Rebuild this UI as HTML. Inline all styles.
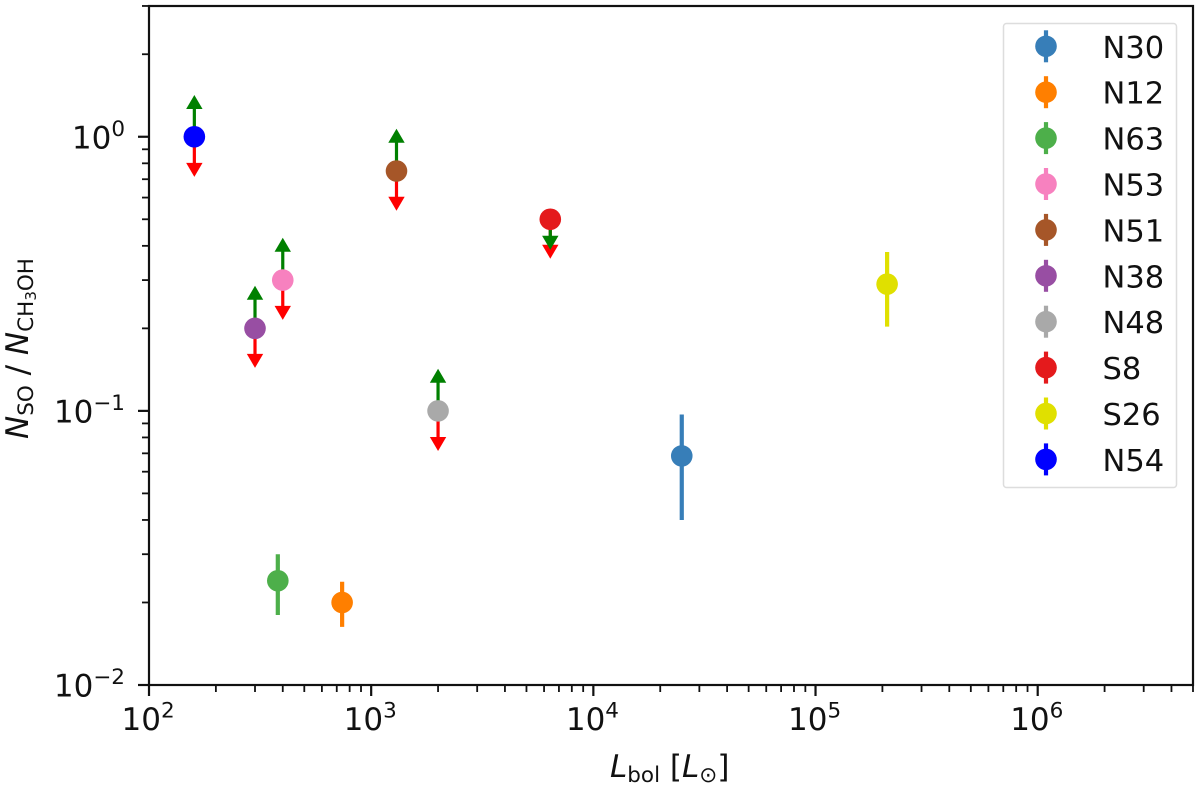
<!DOCTYPE html>
<html lang="en">
<head>
<meta charset="utf-8">
<title>SO / CH3OH column density ratio vs bolometric luminosity</title>
<style>
html,body{margin:0;padding:0;background:#fff;width:1200px;height:788px;overflow:hidden}
svg{display:block;filter:blur(0.35px)}
text{font-family:"DejaVu Sans",sans-serif;fill:#111}
.tick-text{font-size:31px}
.sup{font-size:21.5px}
.it{font-style:italic}
</style>
</head>
<body>
<svg id="chart" xmlns="http://www.w3.org/2000/svg" width="1200" height="788" viewBox="0 0 1200 788">
  <rect x="149" y="6" width="1044" height="679" fill="#fff"/>
  <g id="ticks"></g>
  <g id="marks"></g>
  <rect x="149" y="6" width="1044" height="679" fill="none" stroke="#111" stroke-width="2.2"/>
  <g id="legend">
    <rect x="1003.5" y="23.5" width="173" height="464" rx="3" fill="#fff" fill-opacity="0.8" stroke="#ddd" stroke-width="1.5"/>
  </g>
  <text x="610" y="777" font-size="31"><tspan class="it">L</tspan><tspan font-size="21.5" dy="5">bol</tspan><tspan dy="-5"> [</tspan><tspan class="it">L</tspan><tspan font-size="21.5" dy="5">⊙</tspan><tspan dy="-5">]</tspan></text>
  <text transform="translate(28 439) rotate(-90)" font-size="31"><tspan class="it">N</tspan><tspan font-size="21.5" dy="5">SO</tspan><tspan dy="-5"> / </tspan><tspan class="it">N</tspan><tspan font-size="21.5" dy="5">CH</tspan><tspan font-size="15" dy="3">3</tspan><tspan font-size="21.5" dy="-3">OH</tspan></text>
</svg>
<script>
// Chart data
const seriesNames = ['N30','N12','N63','N53','N51','N38','N48','S8','S26','N54'];
const luminosity  = [25000,740,380,400,1300,300,2000,6400,210000,160];
const ratio       = [0.0685,0.02,0.024,0.3,0.75,0.2,0.1,0.5,0.29,1.0];
const errLow      = [0.04,0.0163,0.018,null,null,null,null,null,0.203,null];
const errHigh     = [0.097,0.0238,0.03,null,null,null,null,null,0.38,null];
// red arrow tip: upper limit; green arrow tip: lower limit
const upperLimit  = [null,null,null,0.2148,0.537,0.1435,0.0714,0.359,null,0.714];
const lowerLimit  = [null,null,null,0.428,1.07,0.286,0.1424,0.387,null,1.42];
const xTickExponents = [2,3,4,5,6];
const yTickExponents = [0,-1,-2];
const xMinorDecades = [2,3,4,5,6];
const yMinorDecades = [-2,-1,0];
const minorMultiples = [2,3,4,5,6,7,8,9];
const seriesColors = ['#377eb8','#ff7f00','#4daf4a','#f781bf','#a65628','#984ea3','#a9a9a9','#e41a1c','#e0e000','#0000ff'];

const NS = 'http://www.w3.org/2000/svg';
const X0 = 149, X1 = 1193, Y0 = 685, Y1 = 6;
const xMinLog = 2, xMaxLog = 6.699, yMinLog = -2, yMaxLog = 0.477;
function xScale(v){ return X0 + (Math.log10(v) - xMinLog) / (xMaxLog - xMinLog) * (X1 - X0); }
function yScale(v){ return Y0 - (Math.log10(v) - yMinLog) / (yMaxLog - yMinLog) * (Y0 - Y1); }
function make(tag, attrs, parent){
  const el = document.createElementNS(NS, tag);
  for (const k in attrs) el.setAttribute(k, attrs[k]);
  parent.appendChild(el);
  return el;
}
const ticks = document.getElementById('ticks');
const marks = document.getElementById('marks');
const legend = document.getElementById('legend');
const INK = '#111';

// X axis
xMinorDecades.forEach(function(d){
  minorMultiples.forEach(function(m){
    const v = m * Math.pow(10, d);
    if (v > Math.pow(10, xMaxLog) * 1.001) return;
    const x = xScale(v);
    const el = make('line', {x1:x, x2:x, y1:Y0, y2:Y0+7, stroke:INK, 'stroke-width':1.8}, ticks);
    
    
  });
});
xTickExponents.forEach(function(e){
  const x = xScale(Math.pow(10, e));
  const el = make('line', {x1:x, x2:x, y1:Y0, y2:Y0+11, stroke:INK, 'stroke-width':2.2}, ticks);
  
  
  const t = make('text', {x:x-27.5, y:730, class:'tick-text'}, ticks);
  
  
  t.textContent = '10';
  const s = make('tspan', {class:'sup', dy:-12.5}, t);
  s.textContent = String(e);
});

// Y axis
yMinorDecades.forEach(function(d){
  minorMultiples.forEach(function(m){
    const v = m * Math.pow(10, d);
    if (Math.log10(v) > yMaxLog + 0.002) return;
    const y = yScale(v);
    const el = make('line', {x1:X0-7, x2:X0, y1:y, y2:y, stroke:INK, 'stroke-width':1.8}, ticks);
    
    
  });
});
yTickExponents.forEach(function(e){
  const y = yScale(Math.pow(10, e));
  const el = make('line', {x1:X0-11, x2:X0, y1:y, y2:y, stroke:INK, 'stroke-width':2.2}, ticks);
  
  
  const t = make('text', {x:125, y:y+11.5, 'text-anchor':'end', class:'tick-text'}, ticks);
  
  
  t.textContent = '10';
  const s = make('tspan', {class:'sup', dy:-12.5}, t);
  s.textContent = String(e).replace('-', '\u2212');
});

// Arrow for a limit: a shaft from the point to the tip and a triangular head at the tip
function arrow(x, yFrom, yTip, color, name){
  const dir = yTip < yFrom ? 1 : -1; // head base lies back toward the point
  const g = make('g', {}, marks);
  
  
  make('line', {x1:x, x2:x, y1:yFrom, y2:yTip + dir*10, stroke:color, 'stroke-width':3.2}, g);
  make('polygon', {points:[x, yTip, x-8.2, yTip+dir*14, x+8.2, yTip+dir*14].join(' '), fill:color}, g);
}

seriesNames.forEach(function(name, i){
  const x = xScale(luminosity[i]);
  const y = yScale(ratio[i]);
  const color = seriesColors[i];
  if (errLow[i] !== null) {
    const bar = make('line', {x1:x, x2:x, y1:yScale(errLow[i]), y2:yScale(errHigh[i]), stroke:color, 'stroke-width':4.2}, marks);
    
    
  }
  if (upperLimit[i] !== null) arrow(x, y, yScale(upperLimit[i]), '#ff0000', 'upper-limit-arrow-' + name);
  if (lowerLimit[i] !== null) arrow(x, y, yScale(lowerLimit[i]), '#008000', 'lower-limit-arrow-' + name);
  const dot = make('circle', {cx:x, cy:y, r:10.8, fill:color}, marks);
  
  

  const ly = 46.3 + i * 45.9;
  const entry = make('g', {}, legend);
  
  
  make('line', {x1:1046, x2:1046, y1:ly-16, y2:ly+16, stroke:color, 'stroke-width':4.2}, entry);
  make('circle', {cx:1046, cy:ly, r:10.8, fill:color}, entry);
  const label = make('text', {x:1102.5, y:ly+11.5, 'font-size':30.5}, entry);
  label.textContent = name;
});
</script>
</body>
</html>
